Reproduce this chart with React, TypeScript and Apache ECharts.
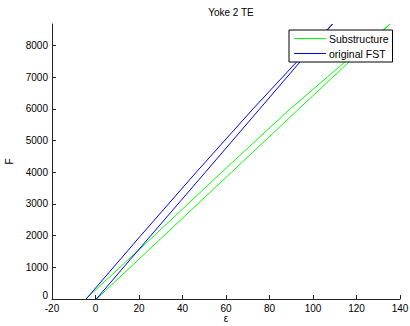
import React, { useEffect, useRef } from "react";
import * as echarts from "echarts";

const titleText = "Yoke 2 TE";
const xTicks = [-20, 0, 20, 40, 60, 80, 100, 120, 140];
const yTicks = [0, 1000, 2000, 3000, 4000, 5000, 6000, 7000, 8000];

// Force levels (F) at which strain (ε) was read
const forceLevels = [0, 2000, 4000, 6000, 8000, 8680];

// original FST (blue) – loading and unloading branches
const blueLoadX = [0.4, 25.4, 50.5, 75.5, 100.5, 109.0];
const blueUnloadX = [-4.3, 20.8, 46.3, 72.4, 99.5, 109.0];

// Substructure (green) – loading and unloading branches
const greenLoadX = [0.5, 31.5, 62.5, 93.5, 124.6, 135.5];
const greenUnloadX = [-4.5, 27.0, 58.0, 89.5, 123.5, 135.5];

const FONT = '"Liberation Sans", Arial, Helvetica, sans-serif';

function loop(loadX: number[], unloadX: number[]): number[][] {
  const up = forceLevels.map((f, i) => [loadX[i], f]);
  const down = forceLevels.map((f, i) => [unloadX[i], f]).reverse();
  return up.concat(down.slice(1));
}

export default function App() {
  const ref = useRef<HTMLDivElement>(null);
  useEffect(() => {
    if (!ref.current) return;
    const chart = echarts.init(ref.current, null, { renderer: "svg" });
    chart.setOption({
      animation: false,
      backgroundColor: "#fff",
      textStyle: { fontFamily: FONT },
      title: {
        text: titleText,
        left: 226,
        top: 2,
        textAlign: "center",
        textStyle: { fontSize: 10, fontWeight: "normal", color: "#000", fontFamily: FONT },
      },
      grid: { left: 52, right: 10, top: 24, bottom: 27, containLabel: false, outerBoundsMode: "none" },
      legend: {
        left: 289,
        top: 30,
        orient: "vertical",
        backgroundColor: "#fff",
        borderColor: "#000",
        borderWidth: 1,
        borderRadius: 0,
        padding: [3, 4, 3, 5],
        itemGap: 4,
        itemWidth: 32,
        itemHeight: 12,
        textStyle: { fontSize: 10.5, color: "#000", fontFamily: FONT, padding: [0, 0, 0, -2] },
        data: [
          { name: "Substructure", icon: "path://M0,5.5 L32,5.5 L32,6.5 L0,6.5 Z", itemStyle: { color: "#00ff00" } },
          { name: "original FST", icon: "path://M0,5.5 L32,5.5 L32,6.5 L0,6.5 Z", itemStyle: { color: "#0000ff" } },
        ],
      },
      xAxis: {
        type: "value",
        min: -20,
        max: 140,
        interval: 20,
        name: "ε",
        nameLocation: "middle",
        nameGap: 19,
        nameMoveOverlap: false,
        nameTextStyle: { fontSize: 10, color: "#000", fontFamily: FONT, verticalAlign: "middle", lineHeight: 10 },
        axisLine: { show: true, onZero: false, lineStyle: { color: "#222", width: 1 } },
        axisTick: { show: true, inside: true, length: 4, lineStyle: { color: "#222" }, customValues: xTicks },
        axisLabel: { fontSize: 10, color: "#000", margin: 4, fontFamily: FONT, customValues: xTicks, formatter: (v: number) => String(v) },
        splitLine: { show: false },
      },
      yAxis: {
        type: "value",
        min: 0,
        max: 8680,
        interval: 1000,
        name: "F",
        nameLocation: "middle",
        nameGap: 38,
        nameMoveOverlap: false,
        nameTextStyle: { fontSize: 10, color: "#000", fontFamily: FONT },
        axisLine: { show: true, onZero: false, lineStyle: { color: "#222", width: 1 } },
        axisTick: { show: true, inside: true, length: 4, lineStyle: { color: "#222" }, customValues: yTicks },
        axisLabel: {
          fontSize: 10,
          color: "#000",
          margin: 4,
          fontFamily: FONT,
          customValues: yTicks,
          formatter: (v: number) => (v === 0 ? "{z|0}" : String(v)),
          rich: { z: { fontSize: 10, color: "#000", fontFamily: FONT, padding: [0, 0, 7, 0] } },
        },
        splitLine: { show: false },
      },
      series: [
        {
          name: "Substructure",
          type: "line",
          data: loop(greenLoadX, greenUnloadX),
          symbol: "none",
          showSymbol: false,
          lineStyle: { color: "#00ff00", width: 1 },
          itemStyle: { color: "#00ff00" },
          clip: true,
        },
        {
          name: "original FST",
          type: "line",
          data: loop(blueLoadX, blueUnloadX),
          symbol: "none",
          showSymbol: false,
          lineStyle: { color: "#0000ff", width: 1 },
          itemStyle: { color: "#0000ff" },
          clip: true,
        },
      ],
    });
    return () => chart.dispose();
  }, []);
  return (
    <div
      ref={ref}
      style={{ position: "fixed", left: 0, top: 0, width: 410, height: 326 }}
    />
  );
}
